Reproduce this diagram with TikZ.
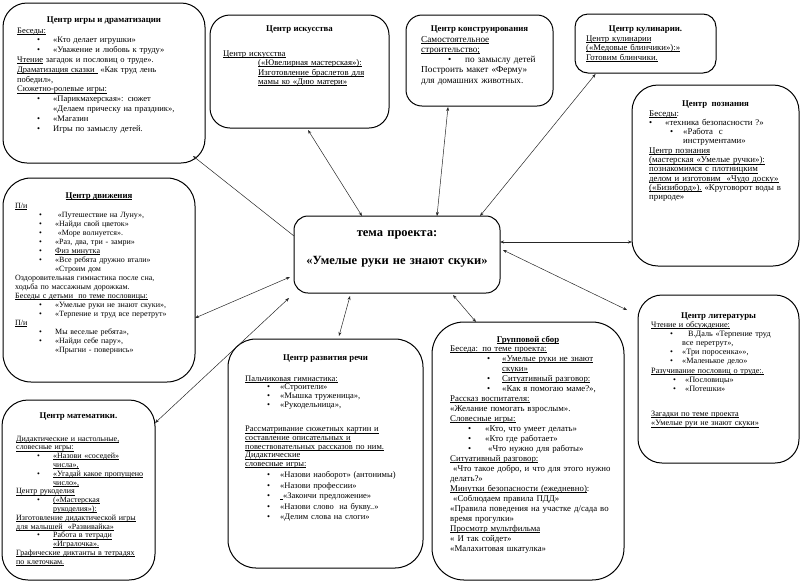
\documentclass[tikz,border=0pt]{standalone}
\usepackage{fontspec}
\setmainfont{Liberation Serif}
\usepackage{tikz}
\usetikzlibrary{arrows.meta, positioning}

\newcommand{\bitem}[2]{\hspace*{#1}\makebox[#2][l]{\textbullet}}
\newcommand{\ulx}[1]{\leavevmode\setbox0=\hbox{#1}\rlap{\rule[-1.3pt]{\wd0}{0.45pt}}\box0\relax}

\begin{document}
\begin{tikzpicture}[
    x=1pt, y=-1pt,
    box/.style={draw, line width=1pt, inner sep=0pt, outer sep=0pt},
    ttl/.style={font=\fontsize{8.8}{10}\selectfont\bfseries, anchor=base, inner sep=0pt},
    txt/.style={align=left, anchor=base west, inner sep=0pt},
    arr/.style={{Stealth[length=4pt,width=3pt]}-{Stealth[length=4pt,width=3pt]}, line width=0.5pt, color=black!85},
    arrone/.style={-{Stealth[length=4pt,width=3pt]}, line width=0.5pt, color=black!85}
]
    \useasboundingbox (0,0) rectangle (800,582);

    \node[box, rounded corners=14pt, minimum width=206pt, minimum height=77pt] (cen) at (397,254.5) {};
    \node[font=\fontsize{12.5}{15}\selectfont\bfseries, align=center, text width=200pt, anchor=base, inner sep=0pt] (cent)
        at ([yshift=-20pt]cen.north) {тема проекта:\\[13pt]«Умелые руки не знают скуки»};

    \node[box, rounded corners=24pt, minimum width=202pt, minimum height=160pt] (igry) at (104,83) {};
    \node[ttl] (igryt) at ([yshift=-19pt]igry.north) {Центр игры и драматизации};
    \node[txt, text width=184pt, font=\fontsize{8.5}{9.8}\selectfont] (igryb) at ([xshift=14pt,yshift=-30pt]igry.north west) {%
        \ulx{Беседы:}\\
        \bitem{20pt}{16pt}«Кто делает игрушки»\\
        \bitem{20pt}{16pt}«Уважение и любовь к труду»\\
        \ulx{Чтение} загадок и пословиц о труде».\\
        \ulx{Драматизация сказки\ } «Как труд лень\\
        победил»,\\
        \ulx{Сюжетно-ролевые игры:}\\
        \bitem{20pt}{16pt}«Парикмахерская»: сюжет\\
        \hspace*{36pt}«Делаем прическу на праздник»,\\
        \bitem{20pt}{16pt}«Магазин\\
        \bitem{20pt}{16pt}Игры по замыслу детей.};

    \node[box, rounded corners=20pt, minimum width=179pt, minimum height=113pt] (isk) at (299.5,71.5) {};
    \node[ttl] (iskt) at ([yshift=-16pt]isk.north) {Центр искусства};
    \node[txt, text width=160pt, font=\fontsize{8.7}{9.5}\selectfont] (iskb) at ([xshift=13pt,yshift=-41pt]isk.north west) {%
        \ulx{Центр искусства}\\
        \hspace*{35pt}\ulx{(«Ювелирная мастерская»):}\\
        \hspace*{35pt}\ulx{Изготовление браслетов для}\\
        \hspace*{35pt}\ulx{мамы ко «Дню матери»}};

    \node[box, rounded corners=16pt, minimum width=147pt, minimum height=91pt] (konstr) at (479.5,60.5) {};
    \node[ttl] (konstrt) at ([yshift=-16pt]konstr.north) {Центр конструирования};
    \node[txt, text width=128pt, font=\fontsize{9.2}{10.3}\selectfont] (konstrb) at ([xshift=15pt,yshift=-27pt]konstr.north west) {%
        \ulx{Самостоятельное}\\
        \ulx{строительство;}\\
        \bitem{27pt}{17pt}по замыслу детей\\
        Построить макет «Ферму»\\
        для домашних животных.};

    \node[box, rounded corners=13pt, minimum width=141pt, minimum height=59pt] (kulin) at (645.5,43.5) {};
    \node[ttl] (kulint) at ([yshift=-17pt]kulin.north) {Центр кулинарии.};
    \node[txt, text width=124pt, font=\fontsize{8.7}{9.5}\selectfont] (kulinb) at ([xshift=11pt,yshift=-27pt]kulin.north west) {%
        \ulx{Центр кулинарии}\\
        \ulx{(«Медовые блинчики»):»}\\
        \ulx{Готовим блинчики.}};

    \node[box, rounded corners=26pt, minimum width=167pt, minimum height=181pt] (pozn) at (715.5,175.5) {};
    \node[ttl] (poznt) at ([yshift=-21pt]pozn.north) {Центр\ \ познания};
    \node[txt, text width=146pt, font=\fontsize{8.8}{9.33}\selectfont] (poznb) at ([xshift=17pt,yshift=-31pt]pozn.north west) {%
        \ulx{Беседы}:\\
        \bitem{0pt}{16pt}«техника безопасности ?»\\
        \bitem{21pt}{13pt}«Работа\ \ с\\
        \hspace*{34pt}инструментами»\\
        \ulx{Центр познания}\\
        \ulx{(мастерская «Умелые ручки»):}\\
        \ulx{познакомимся с плотницким}\\
        \ulx{делом и изготовим\ \ «Чудо доску»}\\
        \ulx{(«Бизиборд»).}\ «Круговорот воды в\\
        природе»};

    \node[box, rounded corners=28pt, minimum width=192pt, minimum height=204pt] (dvizh) at (99,280) {};
    \node[ttl] (dvizht) at ([yshift=-20pt]dvizh.north) {\ulx{Центр движения}};
    \node[txt, text width=174pt, font=\fontsize{8}{9}\selectfont] (dvizhb) at ([xshift=12pt,yshift=-30pt]dvizh.north west) {%
        \ulx{П/и}\\
        \bitem{24pt}{16pt}\ «Путешествие на Луну»,\\
        \bitem{24pt}{16pt}«Найди свой цветок»\\
        \bitem{24pt}{16pt}\ «Море волнуется».\\
        \bitem{24pt}{16pt}«Раз, два, три - замри»\\
        \bitem{24pt}{16pt}\ulx{Физ минутка}\\
        \bitem{24pt}{16pt}«Все ребята дружно втали»\\
        \hspace*{40pt}«Строим дом\\
        Оздоровительная гимнастика после сна,\\
        ходьба по массажным дорожкам.\\
        \ulx{Беседы с детьми\ \ по теме пословицы:}\\
        \bitem{24pt}{16pt}«Умелые руки не знают скуки»,\\
        \bitem{24pt}{16pt}«Терпение и труд все перетрут»\\
        \ulx{П/и}\\
        \bitem{24pt}{16pt}Мы веселые ребята»,\\
        \bitem{24pt}{16pt}«Найди себе пару»,\\
        \hspace*{40pt}«Прыгни - повернись»};

    \node[box, rounded corners=24pt, minimum width=161pt, minimum height=168pt] (lit) at (718.5,379) {};
    \node[ttl] (litt) at ([yshift=-23pt]lit.north) {Центр литературы};
    \node[txt, text width=143pt, font=\fontsize{8.2}{9.2}\selectfont] (litb) at ([xshift=13pt,yshift=-32pt]lit.north west) {%
        \ulx{Чтение и обсуждение:}\\
        \bitem{19pt}{18pt}В.Даль «Терпение труд\\
        \hspace*{31pt}все перетрут»,\\
        \bitem{19pt}{12pt}«Три поросенка»»,\\
        \bitem{19pt}{12pt}«Маленькое дело»\\
        \ulx{Разучивание пословиц о труде:.}\\
        \bitem{22pt}{12pt}«Пословицы»\\
        \bitem{22pt}{12pt}«Потешки»\\[16pt]
        \ulx{Загадки по теме проекта}\\
        \ulx{«Умелые руи не знают скуки»}};

    \node[box, rounded corners=26pt, minimum width=153pt, minimum height=180pt] (mat) at (78.5,490) {};
    \node[ttl] (matt) at ([yshift=-18pt]mat.north) {Центр математики.};
    \node[txt, text width=135pt, font=\fontsize{8}{8.8}\selectfont] (matb) at ([xshift=14pt,yshift=-41pt]mat.north west) {%
        \ulx{Дидактические и настольные,}\\
        \ulx{словесные игры:}\\
        \bitem{21pt}{16pt}\ulx{«Назови «соседей»}\\
        \hspace*{37pt}\ulx{числа»,}\\
        \bitem{21pt}{16pt}\ulx{«Угадай какое пропущено}\\
        \hspace*{37pt}\ulx{число»,}\\
        \ulx{Центр рукоделия}\\
        \bitem{21pt}{16pt}\ulx{(«Мастерская}\\
        \hspace*{37pt}\ulx{рукоделия»):}\\
        \ulx{Изготовление дидактической игры}\\
        \ulx{для малышей\ \ «Развивайка»}\\
        \bitem{21pt}{16pt}\ulx{Работа в тетради}\\
        \hspace*{37pt}\ulx{«Игралочка».}\\
        \ulx{Графические диктанты в тетрадях}\\
        \ulx{по клеточкам.}};

    \node[box, rounded corners=28pt, minimum width=195pt, minimum height=229pt] (rech) at (325.5,453.5) {};
    \node[ttl] (recht) at ([yshift=-21pt]rech.north) {Центр развития речи};
    \node[txt, text width=173pt, font=\fontsize{8.5}{8.7}\selectfont] (rechb) at ([xshift=17pt,yshift=-42pt]rech.north west) {%
        \ulx{Пальчиковая гимнастика:}\\
        \bitem{22pt}{13pt}«Строители»\\
        \bitem{22pt}{13pt}«Мышка труженица»,\\
        \bitem{22pt}{13pt}«Рукодельница»,\\[16pt]
        \ulx{Рассматривание сюжетных картин и}\\
        \ulx{составление описательных и}\\
        \ulx{повествовательных рассказов по ним.}\\
        \ulx{Дидактические}\\
        \ulx{словесные игры:}\\[2.3pt]
        \bitem{22pt}{13pt}«Назови наоборот» (антонимы)\\[1.8pt]
        \bitem{22pt}{13pt}«Назови профессии»\\[1.8pt]
        \bitem{22pt}{13pt}\ulx{\ }«Закончи предложение»\\[1.8pt]
        \bitem{22pt}{13pt}«Назови слово\ \ на букву..»\\[1.8pt]
        \bitem{22pt}{13pt}«Делим слова на слоги»};

    \node[box, rounded corners=32pt, minimum width=192pt, minimum height=258pt] (grupp) at (528,451) {};
    \node[ttl] (gruppt) at ([yshift=-20pt]grupp.north) {\ulx{Групповой сбор}};
    \node[txt, text width=172pt, font=\fontsize{8.8}{10}\selectfont] (gruppb) at ([xshift=18pt,yshift=-29pt]grupp.north west) {%
        \ulx{Беседа: по теме проекта:}\\
        \bitem{37pt}{15pt}\ulx{«Умелые руки не знают}\\
        \hspace*{52pt}\ulx{скуки»}\\
        \bitem{37pt}{15pt}\ulx{Ситуативный разговор:}\\
        \bitem{37pt}{15pt}«Как я помогаю маме?»,\\
        \ulx{Рассказ воспитателя:}\\
        «Желание помогать взрослым».\\
        \ulx{Словесные игры:}\\
        \bitem{18pt}{17pt}«Кто, что умеет делать»\\
        \bitem{18pt}{17pt}«Кто где работает»\\
        \bitem{18pt}{17pt}\ «Что нужно для работы»\\
        \ulx{Ситуативный разговор:}\\
        \hspace*{3pt}«Что такое добро, и что для этого нужно\\
        делать?»\\
        \ulx{Минутки безопасности (ежедневно)}:\\
        \hspace*{3pt}«Соблюдаем правила ПДД»\\
        «Правила поведения на участке д/сада во\\
        время прогулки»\\
        \ulx{Просмотр мультфильма}\\
        « И так сойдет»\\
        «Малахитовая шкатулка»};

    \draw[arrone] ([yshift=18.5pt]cen.west) -- ([xshift=-12pt,yshift=7pt]igry.south east);
    \draw[arr] ([xshift=-35pt]cen.north) -- ([xshift=8.5pt,yshift=-2pt]isk.south);
    \draw[arr] ([xshift=40pt]cen.north) -- ([xshift=-31.5pt,yshift=-1pt]konstr.south);
    \draw[arr] ([xshift=83pt]cen.north) -- ([xshift=-50pt,yshift=-1pt]kulin.south);
    \draw[arr] ([yshift=12.5pt]cen.east) -- ([yshift=-66.5pt]pozn.west);
    \draw[arr] ([xshift=3pt,yshift=4.5pt]cen.east) -- ([xshift=-11pt,yshift=-15pt]lit.north west);
    \draw[arr] ([xshift=56pt,yshift=-2pt]cen.south) -- ([xshift=-52pt]grupp.north);
    \draw[arr] ([xshift=-47pt,yshift=-3pt]cen.south) -- ([xshift=13.5pt,yshift=3pt]rech.north);
    \draw[arr] ([xshift=-5pt,yshift=-5pt]cen.south west) -- ([yshift=67pt]mat.east);
    \draw[arr] ([xshift=-4pt,yshift=-22.5pt]cen.west) -- ([yshift=-38pt]dvizh.east);
\end{tikzpicture}
\end{document}
